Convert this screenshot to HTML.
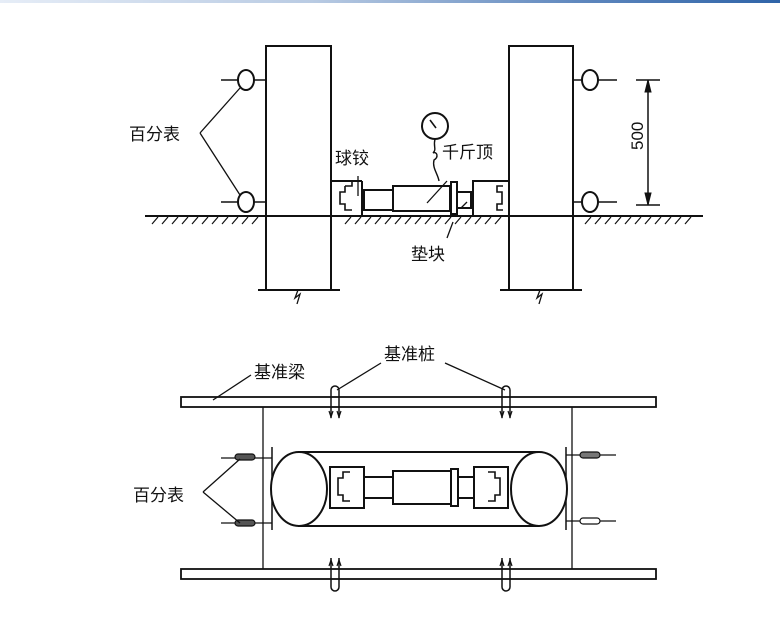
<!DOCTYPE html>
<html><head><meta charset="utf-8"><style>
html,body{margin:0;padding:0;background:#fff;}
body{width:780px;height:622px;overflow:hidden;position:relative;}
.bar{position:absolute;left:0;top:0;width:780px;height:3px;background:linear-gradient(to right,#e6edf7,#b9cbe3 40%,#5d86bd 75%,#2f64a8);}
svg{position:absolute;left:0;top:0;}
text{font-family:"Liberation Sans","Noto Sans CJK SC",sans-serif;font-size:17px;fill:#111;stroke:none;}
</style></head><body>
<div class="bar"></div>
<svg width="780" height="622" viewBox="0 0 780 622" stroke="#111" fill="none" stroke-width="2">
<path d="M266,290 V46 H331 V290 M509,290 V46 H573 V290"/>
<path d="M258,290 H340 M500,290 H582" />
<path d="M298,290 l-3,8 l5,-4 l-3,10 M540,290 l-3,8 l5,-4 l-3,10" stroke-width="1.3"/>
<path d="M145,216 H703"/>
<g stroke-width="1.2">
<path d="M152,224 l6,-7 M162,224 l6,-7 M172,224 l6,-7 M182,224 l6,-7 M192,224 l6,-7 M202,224 l6,-7 M212,224 l6,-7 M222,224 l6,-7 M232,224 l6,-7 M242,224 l6,-7 M252,224 l6,-7"/>
<path d="M345,224 l6,-7 M355,224 l6,-7 M365,224 l6,-7 M375,224 l6,-7 M385,224 l6,-7 M395,224 l6,-7 M405,224 l6,-7 M415,224 l6,-7 M425,224 l6,-7 M435,224 l6,-7 M445,224 l6,-7 M455,224 l6,-7 M465,224 l6,-7 M475,224 l6,-7 M485,224 l6,-7 M495,224 l6,-7"/>
<path d="M585,224 l6,-7 M595,224 l6,-7 M605,224 l6,-7 M615,224 l6,-7 M625,224 l6,-7 M635,224 l6,-7 M645,224 l6,-7 M655,224 l6,-7 M665,224 l6,-7 M675,224 l6,-7 M685,224 l6,-7"/>
</g>
<path d="M221,80 H266 M221,202 H266 M573,80 H617 M573,202 H617" stroke-width="1.5"/>
<ellipse cx="246" cy="80" rx="8" ry="10" fill="#fff"/>
<ellipse cx="246" cy="202" rx="8" ry="10" fill="#fff"/>
<ellipse cx="590" cy="80" rx="8" ry="10" fill="#fff"/>
<ellipse cx="590" cy="202" rx="8" ry="10" fill="#fff"/>
<path d="M200,133 L240,88 M200,133 L240,195" stroke-width="1.3"/>
<path d="M648,80 V205 M636,80 H660 M636,205 H660" stroke-width="1.5"/>
<path d="M648,80 l-3,12 h6 z M648,205 l-3,-12 h6 z" fill="#111" stroke-width="1"/>
<text x="0" y="0" transform="translate(643,150) rotate(-90)" font-size="16">500</text>
<path d="M331,181 H362 M331,216 H362 M362,181 V216"/>
<path d="M345,186 h7 v-4 M345,186 v6 h-5 v12 h5 v6 h7" stroke-width="1.6"/>
<path d="M358,196 V176" stroke-width="1.3"/>
<rect x="364" y="190" width="29" height="20"/>
<rect x="393" y="186" width="57" height="25"/>
<rect x="451" y="182" width="6" height="32"/>
<rect x="457" y="192" width="14" height="16"/>
<path d="M509,181 H473 V216 H509"/>
<path d="M503,186 h-6 v6 h5 v12 h-5 v6 h6" stroke-width="1.6"/>
<circle cx="435" cy="126" r="13" fill="#fff"/>
<path d="M430,120 l6,8" stroke-width="1.6"/>
<path d="M435,139 c-2,8 2,10 -2,14 c4,-2 6,4 1,7 c-2,8 4,14 5,21" stroke-width="1.4"/>
<path d="M427,203 l20,-22 M461,208 l6,-6 M453,222 l-6,16" stroke-width="1.3"/>
<text x="335" y="164">球铰</text>
<text x="442" y="158">千斤顶</text>
<text x="411" y="260">垫块</text>
<text x="129" y="140">百分表</text>
<rect x="181" y="397" width="475" height="10" stroke-width="1.8"/>
<rect x="181" y="569" width="475" height="10" stroke-width="1.8"/>
<path d="M263,407 V569 M572,407 V569" stroke-width="1.3"/>
<path d="M272,447 V530 M566,447 V530" stroke-width="1.5"/>
<path d="M221,458 H272 M221,523 H272 M566,455 H616 M566,521 H616" stroke-width="1.3"/>
<rect x="235" y="454" width="20" height="6" rx="3" fill="#555" stroke-width="1.2"/>
<rect x="235" y="520" width="20" height="6" rx="3" fill="#555" stroke-width="1.2"/>
<rect x="580" y="452" width="20" height="6" rx="3" fill="#777" stroke-width="1.2"/>
<rect x="580" y="518" width="20" height="6" rx="3" fill="#fff" stroke-width="1.2"/>
<path d="M298,452 H539 M298,526 H539"/>
<ellipse cx="299" cy="489" rx="28" ry="37" fill="#fff"/>
<ellipse cx="539" cy="489" rx="28" ry="37" fill="#fff"/>
<rect x="330" y="467" width="34" height="41"/>
<path d="M350,472 h-7 v6 h-5 v17 h5 v6 h7" stroke-width="1.6"/>
<rect x="364" y="477" width="29" height="21"/>
<rect x="393" y="471" width="58" height="33"/>
<rect x="451" y="469" width="7" height="37"/>
<rect x="458" y="477" width="16" height="21"/>
<rect x="474" y="467" width="34" height="41"/>
<path d="M488,472 h7 v6 h5 v17 h-5 v6 h-7" stroke-width="1.6"/>
<g stroke-width="1.5">
<path d="M331,418 V390 a4,4 0 0 1 8,0 V418"/>
<path d="M502,418 V390 a4,4 0 0 1 8,0 V418"/>
<path d="M331,558 V587 a4,4 0 0 0 8,0 V558"/>
<path d="M502,558 V587 a4,4 0 0 0 8,0 V558"/>
</g>
<path d="M329,411 l2,6 l2,-6 M337,411 l2,6 l2,-6 M500,411 l2,6 l2,-6 M508,411 l2,6 l2,-6 M329,566 l2,-6 l2,6 M337,566 l2,-6 l2,6 M500,566 l2,-6 l2,6 M508,566 l2,-6 l2,6" stroke-width="1.2"/>
<path d="M251,375 L213,400 M381,363 L337,390 M445,363 L505,390 M203,492 L240,459 M203,492 L240,523" stroke-width="1.3"/>
<text x="254" y="378">基准梁</text>
<text x="384" y="360">基准桩</text>
<text x="133" y="501">百分表</text>
</svg>
</body></html>
